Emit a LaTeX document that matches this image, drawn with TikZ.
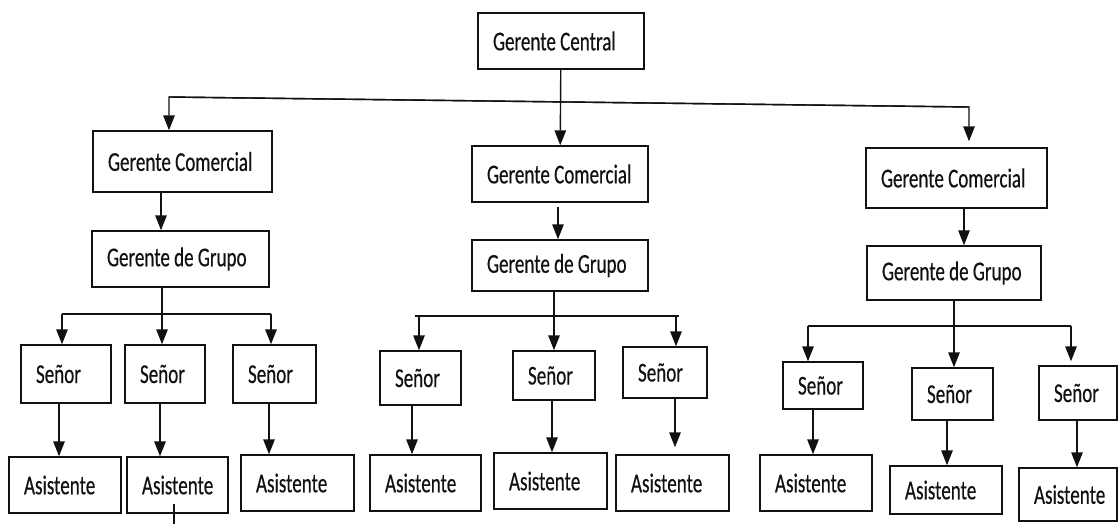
\documentclass[tikz,border=0pt]{standalone}
\usepackage{fontspec}
\setmainfont[FakeStretch=0.70, FakeBold=0.4]{Carlito}
\usepackage{tikz}
\usetikzlibrary{arrows.meta}
\definecolor{tinta}{HTML}{111111}

\newdimen\pxl
\pxl=0.02cm

% one box of the chart: name, x1, y1, x2, y2, text
\newcommand{\puesto}[6]{%
  \pgfmathsetlengthmacro{\cajaw}{(#4-#2)*\pxl}%
  \pgfmathsetlengthmacro{\cajah}{(#5-#3)*\pxl}%
  \pgfmathsetlengthmacro{\cajat}{(#4-#2-30)*\pxl}%
  \node[caja, minimum width=\cajaw, minimum height=\cajah, text width=\cajat] (#1) at ({(#2+#4)/2},{(#3+#5)/2}) {\spaceskip=2.4pt\mbox{#6}};}

\tikzset{
  caja/.style={draw=tinta, line width=0.8pt, rectangle, inner xsep=15\pxl, inner ysep=1pt, align=left, text=tinta, font=\fontsize{15.5}{17}\selectfont},
  linea/.style={draw=tinta, line width=0.8pt},
  flecha/.style={linea, -{Triangle[width=6.5pt,length=8.5pt]}}
}

\begin{document}
\begin{tikzpicture}[x=0.02cm, y=-0.02cm]
\useasboundingbox (0,0) rectangle (1120,524);

% Top
\puesto{central}{478}{13}{644}{69}{Gerente Central}

% Comerciales
\puesto{comI}{93}{131}{272}{192}{Gerente Comercial}
\puesto{comC}{472}{146}{648}{202}{Gerente Comercial}
\puesto{comD}{866}{148}{1047}{208}{Gerente Comercial}

% Grupos
\puesto{grpI}{92}{231}{269}{287}{Gerente de Grupo}
\puesto{grpC}{472}{240}{648}{291}{Gerente de Grupo}
\puesto{grpD}{867}{246}{1041}{300}{Gerente de Grupo}

% Senior, left group
\puesto{s1}{21}{345}{111}{403}{Señor}
\puesto{s2}{125}{345}{205}{403}{Señor}
\puesto{s3}{233}{345}{316}{403}{Señor}
% Senior, middle group
\puesto{s4}{380}{351}{461}{405}{Señor}
\puesto{s5}{513}{351}{595}{400}{Señor}
\puesto{s6}{623}{347}{707}{398}{Señor}
% Senior, right group
\puesto{s7}{783}{362}{863}{409}{Señor}
\puesto{s8}{912}{368}{993}{420}{Señor}
\puesto{s9}{1039}{366}{1117}{420}{Señor}

% Asistentes
\puesto{a1}{9}{457}{121}{513}{Asistente}
\puesto{a2}{127}{457}{228}{513}{Asistente}
\puesto{a3}{241}{455}{354}{511}{Asistente}
\puesto{a4}{370}{455}{481}{511}{Asistente}
\puesto{a5}{494}{453}{607}{509}{Asistente}
\puesto{a6}{616}{455}{729}{511}{Asistente}
\puesto{a7}{760}{455}{872}{511}{Asistente}
\puesto{a8}{890}{466}{1002}{514}{Asistente}
\puesto{a9}{1019}{468}{1117}{521}{Asistente}

% Central to the three comerciales
\coordinate (barI) at (169,97);
\coordinate (barD) at (969,107);
\draw[flecha] (central) -- (comC);
\draw[flecha] (barD) -- (barI) -- (barI |- comI.north);
\draw[flecha, shorten >=6\pxl] (barI) -- (barD) -- (barD |- comD.north);

% Comercial to grupo
\draw[flecha] (comI.south -| 161,0) -- (grpI.north -| 161,0);
\draw[flecha, shorten <=4\pxl] (comC.south -| 558,0) -- (grpC.north -| 558,0);
\draw[flecha] (comD.south -| 964,0) -- (grpD.north -| 964,0);

% Left branch
\coordinate (ramI) at (162,314);
\coordinate (ramIa) at (62,314);
\coordinate (ramIb) at (271,314);
\draw[linea] (grpI.south -| ramI) -- (ramI);
\draw[linea] (ramIa) -- (ramIb);
\draw[flecha] (ramIa) -- (ramIa |- s1.north);
\draw[flecha] (ramI) -- (ramI |- s2.north);
\draw[flecha] (ramIb) -- (ramIb |- s3.north);

% Middle branch
\coordinate (ramC) at (554,316);
\coordinate (ramCa) at (419,316);
\coordinate (ramCb) at (676,316);
\draw[linea] (grpC.south -| ramC) -- (ramC);
\draw[linea] (415,316) -- (679,316);
\draw[flecha] (ramCa) -- (ramCa |- s4.north);
\draw[flecha] (ramC) -- (ramC |- s5.north);
\draw[flecha] (ramCb) -- (ramCb |- s6.north);

% Right branch
\coordinate (ramD) at (954,326);
\coordinate (ramDa) at (808,326);
\coordinate (ramDb) at (1071,326);
\draw[linea] (grpD.south -| ramD) -- (ramD);
\draw[linea] (ramDa) -- (ramDb);
\draw[flecha] (ramDa) -- (ramDa |- s7.north);
\draw[flecha] (ramD) -- (ramD |- s8.north);
\draw[flecha, shorten >=4\pxl] (ramDb) -- (ramDb |- s9.north);

% Senior to asistente
\draw[flecha] (s1.south -| 59,0) -- (a1.north -| 59,0);
\draw[flecha] (s2.south -| 160,0) -- (a2.north -| 160,0);
\draw[flecha] (s3.south -| 269,0) -- (a3.north -| 269,0);
\draw[flecha] (s4.south -| 412,0) -- (a4.north -| 412,0);
\draw[flecha] (s5.south -| 552,0) -- (a5.north -| 552,0);
\draw[flecha, shorten >=7\pxl] (s6.south -| 675,0) -- (a6.north -| 675,0);
\draw[flecha] (s7.south -| 813,0) -- (a7.north -| 813,0);
\draw[flecha] (s8.south -| 947,0) -- (a8.north -| 947,0);
\draw[flecha] (s9.south -| 1077,0) -- (a9.north -| 1077,0);

% small mark below the second asistente
\coordinate (marca) at (174,524);
\draw[linea] (marca) -- (a2.south -| marca) -- ++(0,-10);

\end{tikzpicture}
\end{document}
